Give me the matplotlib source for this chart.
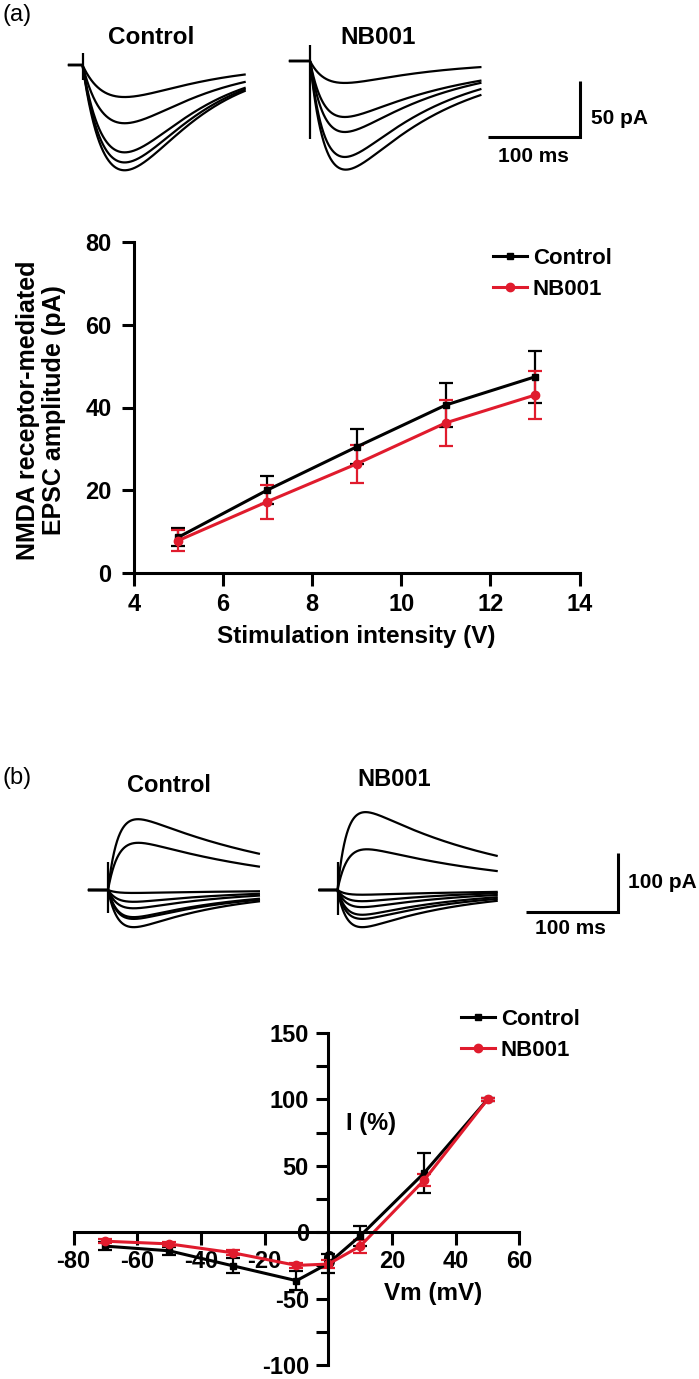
import numpy as np
import matplotlib

matplotlib.use("Agg")
import matplotlib.pyplot as plt

W, H = 699, 1379
RED = "#e01b2d"

# (a) NMDA EPSC amplitude vs stimulation intensity
stim_v = [5, 7, 9, 11, 13]
amp_control = [8.7, 20.1, 30.5, 40.6, 47.4]
amp_control_err = [2.2, 3.4, 4.2, 5.4, 6.2]
amp_nb001 = [7.9, 17.3, 26.4, 36.3, 43.0]
amp_nb001_err = [2.6, 4.1, 4.6, 5.6, 5.7]

# (b) normalised I-V relation
vm = [-70, -50, -30, -10, 0, 10, 30, 50]
iv_control = [-10.5, -14.0, -25.3, -36.5, -23.5, -2.8, 44.4, 100]
iv_control_err = [3.0, 3.0, 5.6, 7.0, 7.0, 7.5, 15.0, 1.0]
iv_nb001 = [-6.8, -8.8, -15.5, -25.0, -24.0, -10.5, 39.0, 100]
iv_nb001_err = [1.5, 1.5, 2.0, 2.0, 3.0, 5.0, 4.5, 1.0]

# example traces: peak (pA), time to peak (ms), decay tau (ms)
a_ctrl_peak = [-28.6, -52, -78, -87, -94]
a_ctrl_tpeak = [46, 46, 46, 46, 46]
a_ctrl_decay = [80, 78, 68, 64, 62]
a_nb_peak = [-19.6, -50, -63.4, -85.7, -97]
a_nb_tpeak = [38, 38, 38, 38, 39]
a_nb_decay = [100, 125, 110, 105, 110]

b_ctrl_peak = [120, 80, -5, -20, -31, -46, -49, -63]
b_ctrl_tpeak = [32.6, 33, 28, 28, 28, 28, 28, 28]
b_ctrl_decay = [180, 170, 150, 110, 105, 110, 115, 105]
b_nb_peak = [132, 69, -8, -19, -29, -42, -49, -63]
b_nb_tpeak = [30.5, 32, 27, 27, 27, 27, 27, 27]
b_nb_decay = [160, 170, 150, 110, 110, 110, 115, 110]

plt.rcParams["font.family"] = ["Liberation Sans", "DejaVu Sans"]
plt.rcParams["font.weight"] = "bold"
plt.rcParams["axes.labelweight"] = "bold"
plt.rcParams["axes.unicode_minus"] = False


def px_axes(fig, x0, y0, x1, y1):
    return fig.add_axes([x0 / W, 1 - y1 / H, (x1 - x0) / W, (y1 - y0) / H])


def ftext(fig, x, y, s, **kw):
    fig.text(x / W, 1 - y / H, s, **kw)


def rise_tau(t_peak, tau_decay):
    lo, hi = 0.01, tau_decay * 0.999
    for _ in range(80):
        mid = 0.5 * (lo + hi)
        tp = np.log(tau_decay / mid) * tau_decay * mid / (tau_decay - mid)
        if tp < t_peak:
            lo = mid
        else:
            hi = mid
    return 0.5 * (lo + hi)


def epsc(t, peak, t_peak, tau_decay):
    tr = rise_tau(t_peak, tau_decay)
    shape = np.exp(-t / tau_decay) - np.exp(-t / tr)
    norm = np.exp(-t_peak / tau_decay) - np.exp(-t_peak / tr)
    return peak * shape / norm


class TracePanel:
    def __init__(self, fig, top, bottom, px_ms, px_pa):
        self.top, self.px_ms, self.px_pa = top, px_ms, px_pa
        self.ax = px_axes(fig, 0, top, W, bottom)
        self.ax.set_xlim(0, W / px_ms)
        self.ax.set_ylim(-(bottom - top) / px_pa, 0)
        self.ax.axis("off")

    def xy(self, xpx, ypx):
        return xpx / self.px_ms, -(ypx - self.top) / self.px_pa

    def traces(self, stim_px, base_px, pre, post, peaks, tpeaks, decays, art_up, art_down):
        x0, y0 = self.xy(stim_px, base_px)
        t = np.linspace(0, post, 600)
        for p, tp, td in zip(peaks, tpeaks, decays):
            x = np.concatenate([[-pre], t]) + x0
            y = np.concatenate([[0], epsc(t, p, tp, td)]) + y0
            self.ax.plot(x, y, color="black", lw=1.6)
        self.ax.vlines(x0, y0 - art_down, y0 + art_up, color="black", lw=1.6)

    def scalebar(self, xpx, ypx, ms, pa):
        x, y = self.xy(xpx, ypx)
        self.ax.plot([x - ms, x, x], [y, y, y + pa], color="black", lw=2.2,
                     solid_joinstyle="miter", solid_capstyle="butt")


def style_axis(ax):
    for side in ["top", "right"]:
        ax.spines[side].set_visible(False)
    for side in ["left", "bottom"]:
        ax.spines[side].set_linewidth(2.2)
    ax.tick_params(direction="out", length=9, width=2.2, labelsize=17)


fig = plt.figure(figsize=(W / 100, H / 100), dpi=100)

# ---- (a) traces
ftext(fig, 2, 15, "(a)", fontsize=17, fontweight="normal", va="center")
tp_a = TracePanel(fig, 30, 200, 0.916, 1.12)
tp_a.traces(82.5, 65, 14.7, 177, a_ctrl_peak, a_ctrl_tpeak, a_ctrl_decay, 10.7, 13.4)
tp_a.traces(310, 61, 21.8, 186, a_nb_peak, a_nb_tpeak, a_nb_decay, 14.3, 69.6)
tp_a.scalebar(579.6, 137, 100, 50)
ftext(fig, 150.7, 37, "Control", fontsize=17.5, ha="center", va="center")
ftext(fig, 378, 37, "NB001", fontsize=17.5, ha="center", va="center")
ftext(fig, 591, 118, "50 pA", fontsize=15, va="center")
ftext(fig, 533, 157, "100 ms", fontsize=15, ha="center", va="center")

# ---- (a) input-output curve
ax = px_axes(fig, 133.7, 241.7, 579.6, 573.3)
c1 = ax.errorbar(stim_v, amp_control, yerr=amp_control_err, color="black", lw=2.2,
                 marker="s", ms=4.5, capsize=4.7, capthick=1.6, elinewidth=1.6)
c2 = ax.errorbar(stim_v, amp_nb001, yerr=amp_nb001_err, color=RED, lw=2.2,
                 marker="o", ms=6, capsize=4.7, capthick=1.6, elinewidth=1.6)
ax.set_xlim(4, 14)
ax.set_ylim(0, 80)
ax.set_xticks(range(4, 15, 2))
ax.set_yticks(range(0, 81, 20))
style_axis(ax)
ax.tick_params(axis="y", pad=7)
ax.tick_params(axis="x", pad=5)
ax.set_xlabel("Stimulation intensity (V)", fontsize=17.5, fontweight="bold", labelpad=7)
ftext(fig, 41, 410, "NMDA receptor-mediated\nEPSC amplitude (pA)", fontsize=18,
      rotation=90, ha="center", va="center", multialignment="center", linespacing=1.15)
ax.legend([c1[0], c2[0]], ["Control", "NB001"], loc="upper left",
          bbox_to_anchor=(493 / W, 1 - 248 / H), bbox_transform=fig.transFigure,
          frameon=False, fontsize=16, handlelength=1.55, handletextpad=0.25,
          labelspacing=0.45, borderpad=0, borderaxespad=0)

# ---- (b) traces
ftext(fig, 2, 778, "(b)", fontsize=17, fontweight="normal", va="center")
tp_b = TracePanel(fig, 780, 950, 0.92, 0.59)
tp_b.traces(108, 890, 20.6, 164, b_ctrl_peak, b_ctrl_tpeak, b_ctrl_decay, 47, 39)
tp_b.traces(337.5, 890, 19.3, 173, b_nb_peak, b_nb_tpeak, b_nb_decay, 47, 42)
tp_b.scalebar(617.5, 912, 100, 100)
ftext(fig, 169.4, 786, "Control", fontsize=17, ha="center", va="center")
ftext(fig, 394.6, 779, "NB001", fontsize=17, ha="center", va="center")
ftext(fig, 628, 882, "100 pA", fontsize=15, va="center")
ftext(fig, 570, 928, "100 ms", fontsize=15, ha="center", va="center")

# ---- (b) I-V curve
ax2 = px_axes(fig, 73.6, 1033, 519.4, 1365)
d1 = ax2.errorbar(vm, iv_control, yerr=iv_control_err, color="black", lw=2.2,
                  marker="s", ms=4.5, capsize=4.7, capthick=1.6, elinewidth=1.6)
d2 = ax2.errorbar(vm, iv_nb001, yerr=iv_nb001_err, color=RED, lw=2.2,
                  marker="o", ms=6, capsize=4.7, capthick=1.6, elinewidth=1.6)
ax2.set_xlim(-80, 60)
ax2.set_ylim(-100, 150)
ax2.spines["left"].set_position(("data", 0))
ax2.spines["bottom"].set_position(("data", 0))
ax2.set_xticks(range(-80, 61, 20))
ax2.set_yticks(range(-100, 151, 50))
ax2.set_yticks(range(-75, 150, 50), minor=True)
style_axis(ax2)
ax2.tick_params(axis="y", which="minor", direction="out", length=9, width=2.2)
ax2.tick_params(axis="y", pad=5)
ax2.tick_params(axis="x", pad=4)
ax2.text(5.4, 82, "I (%)", fontsize=17, va="center")
ax2.text(32.9, -46.5, "Vm (mV)", fontsize=17.5, ha="center", va="center")
ax2.legend([d1[0], d2[0]], ["Control", "NB001"], loc="upper left",
           bbox_to_anchor=(461 / W, 1 - 1009 / H), bbox_transform=fig.transFigure,
           frameon=False, fontsize=16, handlelength=1.55, handletextpad=0.25,
           labelspacing=0.45, borderpad=0, borderaxespad=0)

fig.savefig("out.png", dpi=100)
